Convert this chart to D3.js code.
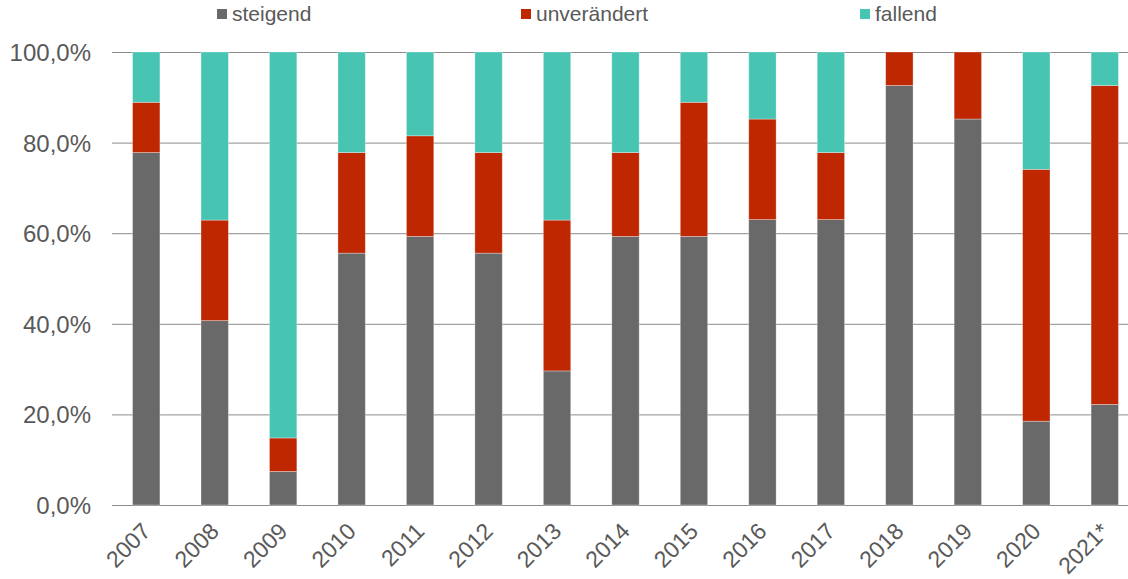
<!DOCTYPE html>
<html>
<head>
<meta charset="utf-8">
<script src="https://cdn.jsdelivr.net/npm/d3@7"></script>
<style>
  body { margin: 0; background: #fff; }
  text { font-family: "Liberation Sans", Arial, sans-serif; fill: #595959; }
</style>
</head>
<body>
<div id="chart"></div>
<script>
// data
var years = ["2007","2008","2009","2010","2011","2012","2013","2014","2015","2016","2017","2018","2019","2020","2021*"];
var steigend    = [77.8, 40.7,  7.4, 55.6, 59.3, 55.6, 29.6, 59.3, 59.3, 63.0, 63.0, 92.6, 85.2, 18.5, 22.2];
var unveraendert = [11.1, 22.2,  7.4, 22.2, 22.2, 22.2, 33.3, 18.5, 29.6, 22.2, 14.8,  7.4, 14.8, 55.6, 70.4];
var fallend     = [11.1, 37.1, 85.2, 22.2, 18.5, 22.2, 37.1, 22.2, 11.1, 14.8, 22.2,  0.0,  0.0, 25.9,  7.4];
var seriesNames = ["steigend", "unverändert", "fallend"];
var colors = ["#696969", "#BE2700", "#48C4B3"];
var yTicks = [0, 20, 40, 60, 80, 100];

var W = 1128, H = 579;
var svg = d3.select("#chart").append("svg").attr("width", W).attr("height", H);

var x = d3.scaleBand().domain(years).range([112, 1139]).paddingInner(0.6).paddingOuter(0.3);
var y = d3.scaleLinear().domain([0, 100]).range([505, 52]);

var rows = years.map(function(yr, i){
  return { year: yr, "steigend": steigend[i], "unverändert": unveraendert[i], "fallend": fallend[i] };
});
var stack = d3.stack().keys(seriesNames);
var stacked = stack(rows);

// gridlines
svg.append("g").selectAll("line")
  .data(yTicks)
  .enter().append("line")
  .attr("x1", 112).attr("x2", W)
  .attr("y1", function(d){ return y(d) + 0.5; })
  .attr("y2", function(d){ return y(d) + 0.5; })
  .style("stroke", "#8c8c8c")
  .style("stroke-width", 1);

// y labels
svg.append("g").selectAll("text")
  .data(yTicks)
  .enter().append("text")
  .attr("x", 91)
  .attr("y", function(d){ return y(d) + 9; })
  .attr("text-anchor", "end")
  .style("font-size", "24px")
  .text(function(d){ return d3.format(".1f")(d).replace(".", ",") + "%"; });

// bars
svg.append("g").selectAll("g")
  .data(stacked)
  .enter().append("g")
  .style("fill", function(d, i){ return colors[i]; })
  .selectAll("rect")
  .data(function(d){ return d; })
  .enter().append("rect")
  .attr("x", function(d){ return x(d.data.year); })
  .attr("width", x.bandwidth())
  .attr("y", function(d){ return y(Math.min(100, d[1])); })
  .attr("height", function(d){ return Math.max(0, y(d[0]) - y(Math.min(100, d[1]))); })
  .style("stroke", "rgba(255,255,255,0.4)")
  .style("stroke-width", 0.8);

// x labels
svg.append("g").selectAll("text")
  .data(years)
  .enter().append("text")
  .attr("transform", function(d){
    return "translate(" + (x(d) + x.bandwidth() / 2) + ",527) rotate(-45)";
  })
  .attr("text-anchor", "end")
  .attr("dy", "0.35em")
  .style("font-size", "23px")
  .text(function(d){ return d; });

// legend
var legendX = [217, 521, 860];
var legend = svg.append("g").selectAll("g")
  .data(seriesNames)
  .enter().append("g")
  .attr("transform", function(d, i){ return "translate(" + legendX[i] + ",0)"; });
legend.append("rect")
  .attr("x", 0).attr("y", 9).attr("width", 10).attr("height", 10)
  .style("fill", function(d, i){ return colors[i]; });
legend.append("text")
  .attr("x", 15).attr("y", 21)
  .style("font-size", "21px")
  .text(function(d){ return d; });
</script>
</body>
</html>
